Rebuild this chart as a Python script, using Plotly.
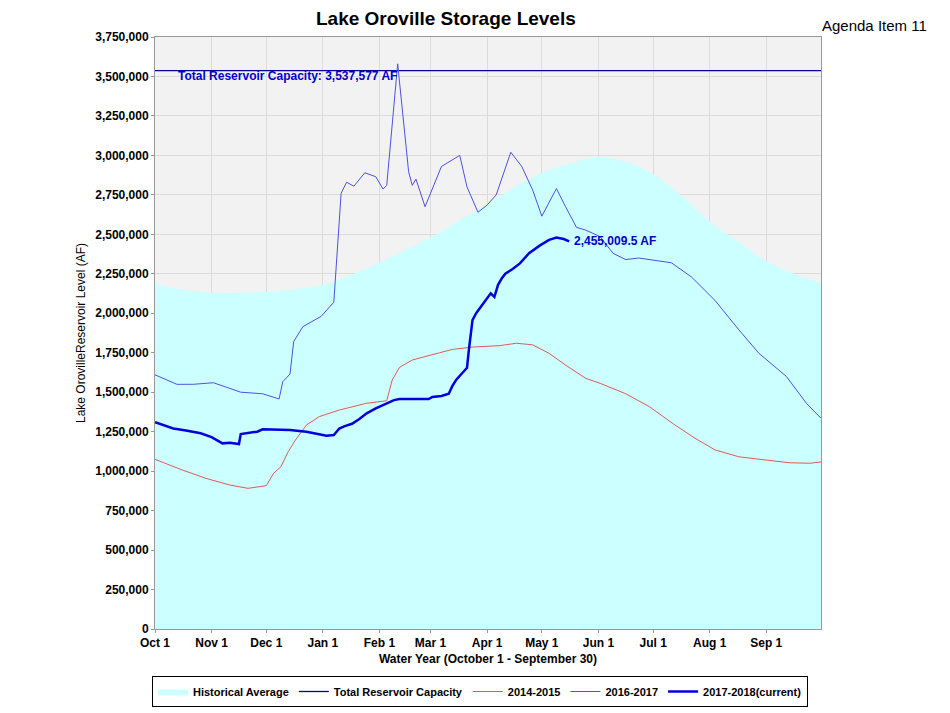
import plotly.graph_objects as go

# Day of water year (0 = Oct 1)
month_ticks = [0, 31, 61, 92, 123, 151, 182, 212, 243, 273, 304, 335]
month_labels = ["Oct 1", "Nov 1", "Dec 1", "Jan 1", "Feb 1", "Mar 1", "Apr 1",
                "May 1", "Jun 1", "Jul 1", "Aug 1", "Sep 1"]

hist_days = [0, 15, 31, 45, 61, 76, 92, 107, 123, 137, 151, 166, 182, 197, 212,
             228, 243, 258, 273, 289, 304, 320, 335, 350, 365]
hist_vals = [2185000, 2150000, 2130000, 2130000, 2135000, 2150000, 2180000, 2240000,
             2320000, 2400000, 2480000, 2580000, 2690000, 2800000, 2890000, 2950000,
             2990000, 2960000, 2880000, 2740000, 2580000, 2450000, 2330000, 2250000,
             2190000]

capacity = 3537577

wy1415_days = [0, 15, 28, 41, 51, 61, 65, 69, 73, 77, 83, 90, 101, 116, 127, 130,
               134, 141, 156, 163, 174, 189, 198, 207, 216, 225, 236, 244, 258, 271,
               284, 296, 307, 320, 335, 348, 359, 365]
wy1415_vals = [1075000, 1007000, 954000, 912000, 891000, 908000, 986000, 1028000,
               1123000, 1197000, 1292000, 1345000, 1387000, 1430000, 1446000,
               1577000, 1657000, 1704000, 1750000, 1771000, 1786000, 1795000,
               1810000, 1800000, 1746000, 1672000, 1588000, 1556000, 1490000,
               1408000, 1300000, 1208000, 1134000, 1091000, 1070000, 1053000,
               1050000, 1058000]

wy1617_days = [0, 12, 21, 32, 47, 59, 68, 70, 74, 76, 81, 91, 98, 102, 105, 109,
               115, 121, 125, 127, 133, 139, 141, 143, 148, 151, 157, 167, 171,
               177, 182, 187, 195, 201, 207, 212, 220, 225, 231, 236, 244, 251,
               258, 265, 283, 294, 307, 320, 331, 346, 357, 365]
wy1617_vals = [1610000, 1550000, 1550000, 1560000, 1500000, 1490000, 1457000,
               1566000, 1615000, 1820000, 1915000, 1980000, 2070000, 2760000,
               2830000, 2805000, 2890000, 2865000, 2787000, 2810000, 3580000,
               2896000, 2810000, 2850000, 2675000, 2760000, 2930000, 3000000,
               2800000, 2640000, 2685000, 2750000, 3020000, 2930000, 2780000,
               2615000, 2790000, 2675000, 2544000, 2527000, 2485000, 2380000,
               2340000, 2350000, 2320000, 2230000, 2080000, 1895000, 1746000,
               1600000, 1430000, 1335000]

wy1718_days = [0, 5, 10, 17, 25, 31, 37, 41, 45, 46, 47, 51, 56, 59, 66, 74, 83,
               89, 94, 98, 101, 104, 108, 112, 116, 121, 127, 131, 134, 142, 150,
               152, 157, 161, 163, 165, 168, 171, 172, 174, 176, 178, 181, 184,
               186, 188, 190, 192, 196, 200, 205, 211, 216, 220, 224, 227]
wy1718_vals = [1310000, 1290000, 1270000, 1258000, 1240000, 1215000, 1176000,
               1180000, 1170000, 1172000, 1235000, 1242000, 1250000, 1265000,
               1262000, 1260000, 1250000, 1236000, 1224000, 1229000, 1270000,
               1285000, 1300000, 1330000, 1366000, 1398000, 1430000, 1450000,
               1457000, 1457000, 1457000, 1470000, 1476000, 1490000, 1540000,
               1577000, 1615000, 1655000, 1767000, 1957000, 2000000, 2030000,
               2080000, 2126000, 2103000, 2180000, 2220000, 2250000, 2280000,
               2316000, 2380000, 2430000, 2465000, 2480000, 2470000, 2455010]
current_label = "2,455,009.5 AF"

FONT = "Arial, Liberation Sans, sans-serif"

# The page body adds an 8px offset; figure is sized to fit the window.
OFF = 8
FIG_W, FIG_H = 950 - OFF, 713 - OFF
L, T, R, B = 155 - OFF, 37 - OFF, FIG_W - (821 - OFF), FIG_H - (629 - OFF)
W_PLOT = FIG_W - L - R
H_PLOT = FIG_H - T - B


def px_x(px):
    return (px - 155) / W_PLOT


def px_y(py):
    return (629 - py) / H_PLOT


fig = go.Figure()
fig.add_trace(go.Scatter(x=hist_days, y=hist_vals, name="Historical Average",
                         mode="lines", line=dict(width=0, shape="spline", color="#CCFFFF"),
                         fill="tozeroy", fillcolor="#CCFFFF"))
fig.add_trace(go.Scatter(x=[0, 365], y=[capacity, capacity], name="Total Reservoir Capacity",
                         mode="lines", line=dict(color="#00009A", width=1.3)))
fig.add_trace(go.Scatter(x=wy1415_days, y=wy1415_vals, name="2014-2015", mode="lines",
                         line=dict(color="#E05A5A", width=1)))
fig.add_trace(go.Scatter(x=wy1617_days, y=wy1617_vals, name="2016-2017", mode="lines",
                         line=dict(color="#5050E0", width=1)))
fig.add_trace(go.Scatter(x=wy1718_days, y=wy1718_vals, name="2017-2018(current)", mode="lines",
                         line=dict(color="#0000DD", width=2.5)))

fig.add_annotation(x=11.5, y=3500000, xref="x", yref="y",
                   text="<b>Total Reservoir Capacity: 3,537,577 AF</b>", showarrow=False,
                   xanchor="left", yanchor="middle",
                   font=dict(family=FONT, size=12, color="#0000CC"))
fig.add_annotation(x=wy1718_days[-1] + 1.5, y=wy1718_vals[-1], xref="x", yref="y",
                   text="<b>" + current_label + "</b>", showarrow=False,
                   xanchor="left", yanchor="middle",
                   font=dict(family=FONT, size=12, color="#0000CC"))
fig.add_annotation(x=px_x(446), y=px_y(19),
                   xref="paper", yref="paper", xanchor="center", yanchor="middle",
                   text="<b>Lake Oroville Storage Levels</b>", showarrow=False,
                   font=dict(family=FONT, size=19, color="black"))
fig.add_annotation(x=px_x(874), y=px_y(25),
                   xref="paper", yref="paper", xanchor="center", yanchor="middle",
                   text="Agenda Item 11", showarrow=False,
                   font=dict(family=FONT, size=15, color="black"))

fig.update_layout(
    width=FIG_W, height=FIG_H,
    margin=dict(l=L, r=R, t=T, b=B, autoexpand=False),
    paper_bgcolor="white", plot_bgcolor="#F2F2F2",
    font=dict(family=FONT, size=12, color="black"),
    showlegend=True,
    legend=dict(orientation="h", x=px_x(152), xanchor="left", y=px_y(676), yanchor="top",
                bordercolor="black", borderwidth=1, bgcolor="white",
                font=dict(family=FONT, size=11, weight="bold"), itemwidth=30,
                tracegroupgap=0),
)

fig.update_xaxes(range=[0, 365], tickvals=month_ticks,
                 ticktext=["<b>" + t + "</b>" for t in month_labels],
                 showgrid=True, gridcolor="#DCDCDC", gridwidth=1,
                 showline=True, linecolor="#999999", mirror=True,
                 ticks="outside", ticklen=3, tickcolor="#999999",
                 tickfont=dict(family=FONT, size=12), zeroline=False, automargin=False,
                 title=dict(text="<b>Water Year (October 1 - September 30)</b>",
                            font=dict(family=FONT, size=12), standoff=5))
fig.update_yaxes(range=[0, 3750000], dtick=250000, tickformat=",d",
                 showgrid=True, gridcolor="#DCDCDC", gridwidth=1,
                 showline=True, linecolor="#999999", mirror=True,
                 ticks="outside", ticklen=3, tickcolor="#999999",
                 tickfont=dict(family=FONT, size=12, weight="bold"), zeroline=False,
                 automargin=False,
                 title=dict(text="Lake OrovilleReservoir Level (AF)",
                            font=dict(family=FONT, size=12), standoff=7))

fig.write_html("out.html")
